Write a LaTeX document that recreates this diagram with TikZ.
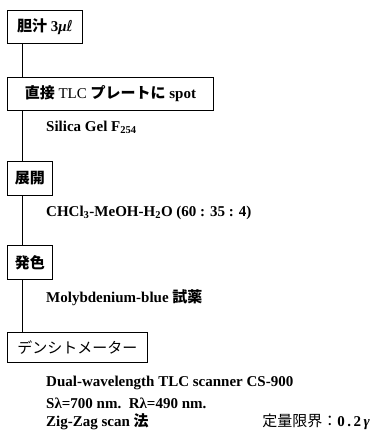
\documentclass[tikz,border=0pt]{standalone}
\usepackage{fontspec}
\setmainfont{Liberation Serif}
\newfontfamily\jp{Noto Sans CJK JP}
\newfontfamily\symf{DejaVu Sans}
\begin{document}
\begin{tikzpicture}[x=1pt,y=-1pt,
  stepbox/.style={draw,line width=0.9pt,anchor=north west,inner sep=0pt,font=\fontsize{15}{17}\selectfont},
  txt/.style={anchor=west,inner sep=0pt,font=\fontsize{15}{17}\selectfont\bfseries},
  conn/.style={line width=0.8pt}]
\useasboundingbox (0,0) rectangle (375,436);
\node[stepbox,minimum width=75pt,minimum height=33pt] (b1) at (7,10) {{\jp\bfseries 胆汁} \textbf{3\textit{μ}{\symf\mdseries ℓ}}};
\node[stepbox,minimum width=206pt,minimum height=33pt] (b2) at (7,77) {{\jp\bfseries 直接} TLC {\jp\bfseries プレートに} \textbf{spot}};
\node[txt] (t1) at (46,127) {Silica Gel F\textsubscript{254}};
\node[stepbox,minimum width=45pt,minimum height=34pt] (b3) at (7,161) {\jp\bfseries 展開};
\node[txt] (t2) at (46,213) {CHCl\textsubscript{3}-MeOH-H\textsubscript{2}O (60 : 35 : 4)};
\node[stepbox,minimum width=45pt,minimum height=34pt] (b4) at (7,245) {\jp\bfseries 発色};
\node[txt] (t3) at (46,298) {Molybdenium-blue {\jp 試薬}};
\node[stepbox,minimum width=140pt,minimum height=30pt] (b5) at (7,332) {\jp デンシトメーター};
\node[txt] (t4) at (46,383) {Dual-wavelength TLC scanner CS-900};
\node[txt] (t5) at (46,403) {Sλ=700 nm.\ \ Rλ=490 nm.};
\node[txt] (t6) at (46,422) {Zig-Zag scan {\jp 法}};
\node[txt,anchor=east] (t7) at (370,422) {{\jp\mdseries 定量限界：}0\,.\,2\,\textit{γ}};
\draw[conn] ([xshift=15pt]b1.south west) -- ([xshift=15pt]b2.north west);
\draw[conn] ([xshift=15pt]b2.south west) -- ([xshift=15pt]b3.north west);
\draw[conn] ([xshift=15pt]b3.south west) -- ([xshift=15pt]b4.north west);
\draw[conn] ([xshift=15pt]b4.south west) -- ([xshift=15pt]b5.north west);
\end{tikzpicture}
\end{document}
